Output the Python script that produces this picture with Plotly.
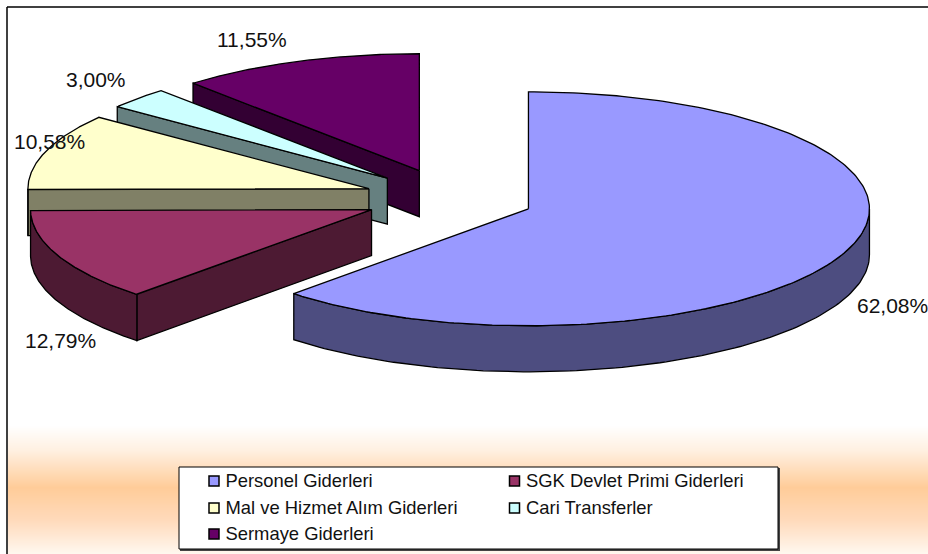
import numpy as np
import plotly.graph_objects as go

# Data
categories = ["Personel Giderleri", "SGK Devlet Primi Giderleri",
              "Mal ve Hizmet Alım Giderleri", "Cari Transferler", "Sermaye Giderleri"]
shares = [62.08, 12.79, 10.58, 3.00, 11.55]
value_labels = ["62,08%", "12,79%", "10,58%", "3,00%", "11,55%"]
top_colors = ["#9999FF", "#993366", "#FFFFCC", "#CCFFFF", "#660066"]
side_colors = ["#4D4D80", "#4D1A33", "#808066", "#668080", "#330033"]

# 3D pie projection, in page pixels
CX, CY = 449.5, 198.0
RX, RY = 341.0, 117.0
EXPLODE = 85.0
DEPTH = 46.0
WIDTH, HEIGHT = 928, 554
EDGE = 1.3

# label anchor positions, in page pixels
label_pos = [(892.5, 305), (60, 340), (49, 141), (96, 79), (252, 39)]

# legend slots, in page pixels
legend_x = [214, 514.5, 214, 514.5, 214]
legend_y = [481, 481, 508, 508, 534]
LEGEND_TEXT_GAP = 11.5
LEGEND_TEXT_DROP = 1.5

# Background band: stops
band_y = [425, 450, 487, 520, 554]
band_r = [255, 255, 255, 255, 255]
band_g = [255, 240, 204, 218, 248]
band_b = [255, 225, 153, 187, 240]

FONT = "Liberation Sans, Arial, sans-serif"


def project(theta, ox, oy):
    return ox + RX * np.sin(theta), oy - RY * np.cos(theta)


fig = go.Figure()
fracs = np.array(shares) / sum(shares)
edges = np.concatenate([[0], np.cumsum(fracs)]) * 2 * np.pi

# draw back to front
draw_order = [4, 3, 2, 1, 0]
for i in draw_order:
    a0, a1 = edges[i], edges[i + 1]
    mid = (a0 + a1) / 2
    ox = CX + EXPLODE * np.sin(mid)
    oy = CY - EXPLODE * (RY / RX) * np.cos(mid)

    # radial cut face that faces the viewer
    if np.sin(a0) < 0:
        ex, ey = project(a0, ox, oy)
        fig.add_trace(go.Scatter(
            x=[ox, ex, ex, ox, ox], y=[oy, ey, ey + DEPTH, oy + DEPTH, oy],
            mode="lines", fill="toself", fillcolor=side_colors[i],
            line=dict(color="#000", width=EDGE), showlegend=False, hoverinfo="skip"))
    # outer rim (front half only)
    r0, r1 = max(a0, np.pi / 2), min(a1, 3 * np.pi / 2)
    if r1 > r0:
        t = np.linspace(r0, r1, 120)
        rx, ry = project(t, ox, oy)
        fig.add_trace(go.Scatter(
            x=np.concatenate([rx, rx[::-1], rx[:1]]),
            y=np.concatenate([ry, ry[::-1] + DEPTH, ry[:1]]),
            mode="lines", fill="toself", fillcolor=side_colors[i],
            line=dict(color="#000", width=EDGE), showlegend=False, hoverinfo="skip"))
    # top face
    t = np.linspace(a0, a1, 240)
    tx, ty = project(t, ox, oy)
    fig.add_trace(go.Scatter(
        x=np.concatenate([[ox], tx, [ox]]), y=np.concatenate([[oy], ty, [oy]]),
        mode="lines", fill="toself", fillcolor=top_colors[i],
        line=dict(color="#000", width=EDGE), showlegend=False,
        name=categories[i], text=value_labels[i], hoverinfo="name+text"))

# Legend entries
fig.add_trace(go.Scatter(
    x=legend_x, y=legend_y, mode="markers",
    marker=dict(symbol="square", size=10, color=top_colors, line=dict(color="#000", width=1.5)),
    showlegend=False, hoverinfo="skip"))
fig.add_trace(go.Scatter(
    x=[v + LEGEND_TEXT_GAP for v in legend_x], y=[v + LEGEND_TEXT_DROP for v in legend_y],
    mode="text", text=categories,
    textposition="middle right", textfont=dict(family=FONT, size=18.4, color="#111"),
    showlegend=False, hoverinfo="skip"))

shapes = []
# gradient band as thin rows
for y in range(band_y[0], band_y[-1]):
    r = np.interp(y, band_y, band_r)
    g = np.interp(y, band_y, band_g)
    b = np.interp(y, band_y, band_b)
    shapes.append(dict(type="rect", layer="below", x0=8, x1=WIDTH, y0=y, y1=y + 1,
                       fillcolor=f"rgb({r:.0f},{g:.0f},{b:.0f})", line_width=0))
# frame lines (top and left)
shapes.append(dict(type="line", layer="below", x0=7, x1=WIDTH, y0=7, y1=7, line=dict(color="#000", width=1.5)))
shapes.append(dict(type="line", layer="below", x0=7, x1=7, y0=7, y1=HEIGHT, line=dict(color="#000", width=1.5)))
# legend box with shadow
shapes.append(dict(type="rect", layer="below", x0=180, x1=780, y0=468, y1=551, fillcolor="#444", line_width=0))
shapes.append(dict(type="rect", layer="below", x0=179, x1=778, y0=467, y1=549, fillcolor="white",
                   line=dict(color="#000", width=1)))

annotations = [dict(x=p[0], y=p[1], text=lbl, showarrow=False, xref="x", yref="y",
                    font=dict(family=FONT, size=21, color="#111"))
               for p, lbl in zip(label_pos, value_labels)]

fig.update_layout(
    width=WIDTH, height=HEIGHT, margin=dict(l=0, r=0, t=0, b=0),
    paper_bgcolor="white", plot_bgcolor="rgba(0,0,0,0)", showlegend=False,
    xaxis=dict(range=[0, WIDTH], visible=False, fixedrange=True),
    yaxis=dict(range=[HEIGHT, 0], visible=False, fixedrange=True),
    shapes=shapes, annotations=annotations,
)
fig.write_html("out.html", config={"displayModeBar": False},
               post_script="document.body.style.margin='0';document.body.style.overflow='hidden';")
